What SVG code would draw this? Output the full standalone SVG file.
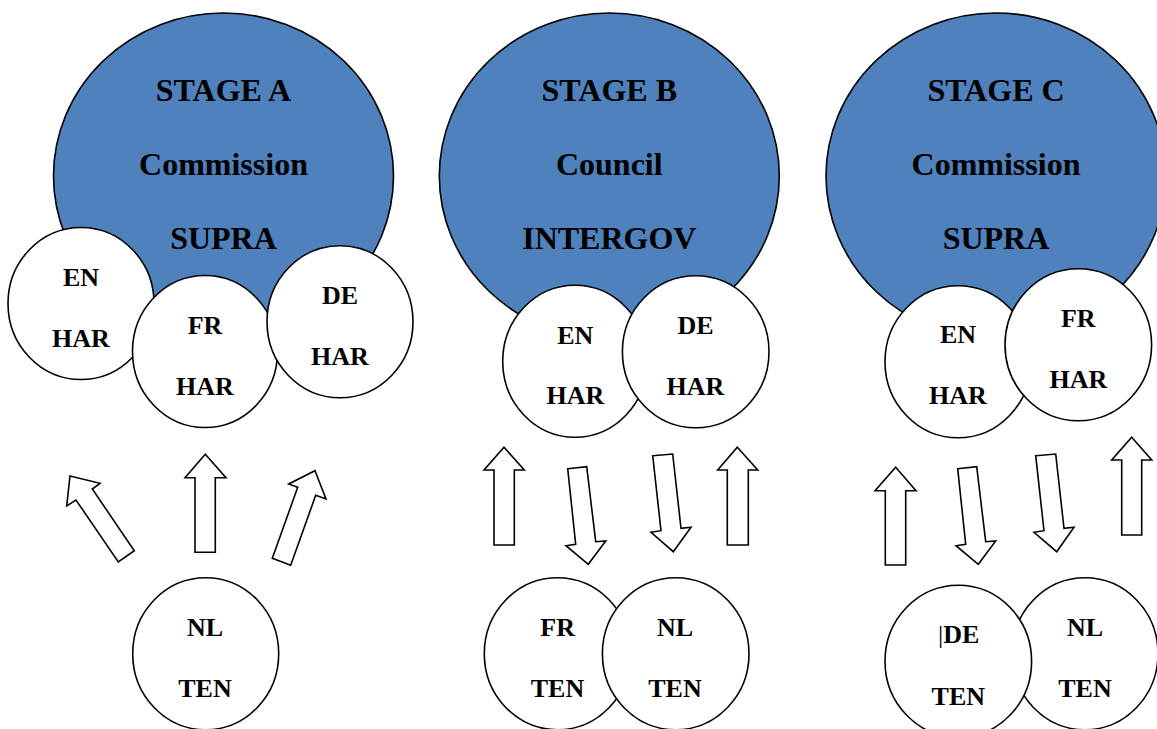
<svg xmlns="http://www.w3.org/2000/svg" width="1157" height="729" viewBox="0 0 1157 729">
  <style>
    .big { fill: #4F81BD; stroke: #000; stroke-width: 1.6; }
    .small { fill: #fff; stroke: #000; stroke-width: 1.6; }
    .arrow { fill: #fff; stroke: #000; stroke-width: 1.6; stroke-linejoin: miter; }
    text { font-family: "Liberation Serif", "Times New Roman", serif; font-weight: bold; fill: #000; text-anchor: middle; }
    .t1 { font-size: 32px; }
    .t2 { font-size: 26px; }
    .bar { font-weight: normal; }
  </style>
  <rect width="1157" height="729" fill="#fff"/>

  <!-- Stage A -->
  <g id="stageA">
    <ellipse class="big" cx="223.5" cy="176" rx="170" ry="163"/>
    <text class="t1" x="223.5" y="100.7">STAGE A</text>
    <text class="t1" x="223.5" y="175">Commission</text>
    <text class="t1" x="223.5" y="249.3">SUPRA</text>
  </g>
  <g id="stageA-en">
    <ellipse class="small" cx="81" cy="303.5" rx="73" ry="76"/>
    <text class="t2" x="81" y="285.7">EN</text>
    <text class="t2" x="81" y="347.3">HAR</text>
  </g>
  <g id="stageA-fr">
    <ellipse class="small" cx="205" cy="351.5" rx="72.5" ry="76"/>
    <text class="t2" x="205" y="334.3">FR</text>
    <text class="t2" x="205" y="395">HAR</text>
  </g>
  <g id="stageA-de">
    <ellipse class="small" cx="340" cy="321.7" rx="73" ry="76"/>
    <text class="t2" x="340" y="304">DE</text>
    <text class="t2" x="340" y="365">HAR</text>
  </g>
  <g id="stageA-nl">
    <ellipse class="small" cx="205.7" cy="653.7" rx="73" ry="76"/>
    <text class="t2" x="205" y="635.7">NL</text>
    <text class="t2" x="205" y="697.3">TEN</text>
  </g>

  <!-- Stage B -->
  <g id="stageB">
    <ellipse class="big" cx="609.3" cy="176" rx="170" ry="163"/>
    <text class="t1" x="609.3" y="100.7">STAGE B</text>
    <text class="t1" x="609.3" y="175">Council</text>
    <text class="t1" x="609.3" y="249.3">INTERGOV</text>
  </g>
  <g id="stageB-en">
    <ellipse class="small" cx="575" cy="361.3" rx="72.3" ry="76"/>
    <text class="t2" x="575.3" y="344">EN</text>
    <text class="t2" x="575.3" y="404.3">HAR</text>
  </g>
  <g id="stageB-de">
    <ellipse class="small" cx="695.7" cy="351.7" rx="73.3" ry="76"/>
    <text class="t2" x="695.5" y="334">DE</text>
    <text class="t2" x="695.5" y="395">HAR</text>
  </g>
  <g id="stageB-fr">
    <ellipse class="small" cx="557.5" cy="653.7" rx="73.2" ry="76"/>
    <text class="t2" x="557.7" y="635.7">FR</text>
    <text class="t2" x="557.5" y="696.7">TEN</text>
  </g>
  <g id="stageB-nl">
    <ellipse class="small" cx="675.7" cy="653.7" rx="73.3" ry="76"/>
    <text class="t2" x="675" y="635.7">NL</text>
    <text class="t2" x="675" y="696.7">TEN</text>
  </g>

  <!-- Stage C -->
  <g id="stageC">
    <ellipse class="big" cx="996" cy="176" rx="170" ry="163"/>
    <text class="t1" x="996" y="100.7">STAGE C</text>
    <text class="t1" x="996" y="175">Commission</text>
    <text class="t1" x="996" y="249.3">SUPRA</text>
  </g>
  <g id="stageC-en">
    <ellipse class="small" cx="958" cy="361.7" rx="73" ry="76"/>
    <text class="t2" x="958" y="343.3">EN</text>
    <text class="t2" x="958" y="404.3">HAR</text>
  </g>
  <g id="stageC-fr">
    <ellipse class="small" cx="1078.3" cy="344.8" rx="73.3" ry="76"/>
    <text class="t2" x="1078.3" y="326.7">FR</text>
    <text class="t2" x="1078.3" y="387.7">HAR</text>
  </g>
  <g id="stageC-nl">
    <ellipse class="small" cx="1085" cy="653.7" rx="73" ry="76"/>
    <text class="t2" x="1085" y="635.7">NL</text>
    <text class="t2" x="1085" y="696.7">TEN</text>
  </g>
  <g id="stageC-de">
    <ellipse class="small" cx="958.3" cy="661.3" rx="73.3" ry="76"/>
    <text class="t2" x="958.7" y="643.3"><tspan class="bar">|</tspan>DE</text>
    <text class="t2" x="958.3" y="705">TEN</text>
  </g>

  <!-- block arrows between the national circles and the institutions -->
  <g id="connectors">
    <!-- Stage A -->
    <polygon class="arrow" points="70,476 100,483.3 92.3,489 134.3,550.7 118.3,562 76,500 66.7,506"/>
    <polygon class="arrow" points="205.3,454.3 226,477.7 215.3,477.7 215.3,552.3 195,552.3 195,477.7 185,477.7"/>
    <polygon class="arrow" points="315,470.7 326,499 315.7,495.3 290.7,565.3 272.3,558.3 297.7,487.3 288.7,484"/>
    <!-- Stage B -->
    <polygon class="arrow" points="504,447.3 524.3,470 514.3,470 514.3,545 494,545 494,470 484,470"/>
    <polygon class="arrow" points="567.7,468.7 586.7,466.7 595.7,541.7 605.7,541 588.3,564.3 566,545.7 575.7,544.3"/>
    <polygon class="arrow" points="652.7,455.7 672.7,454 681,528.3 691,527.3 673.3,551.7 651,532.3 661,530.7"/>
    <polygon class="arrow" points="737.3,447.3 757.7,470 748.3,470 748.3,545 727.3,545 727.3,470 717.7,470"/>
    <!-- Stage C -->
    <polygon class="arrow" points="895.7,467.3 916,490.7 905.7,490.7 905.7,565 885.3,565 885.3,490.7 875,490.7"/>
    <polygon class="arrow" points="957.7,468.7 976.7,466.7 985.7,541.7 995.7,541 978.3,564.3 956,545.7 965.7,544.3"/>
    <polygon class="arrow" points="1035.7,455.7 1055.7,454 1064,528.3 1074,527.3 1056.7,551.7 1034,532.3 1044,530.7"/>
    <polygon class="arrow" points="1131.7,437.3 1151.7,460 1141.7,460 1141.7,535 1121.7,535 1121.7,460 1111.7,460"/>
  </g>
</svg>
